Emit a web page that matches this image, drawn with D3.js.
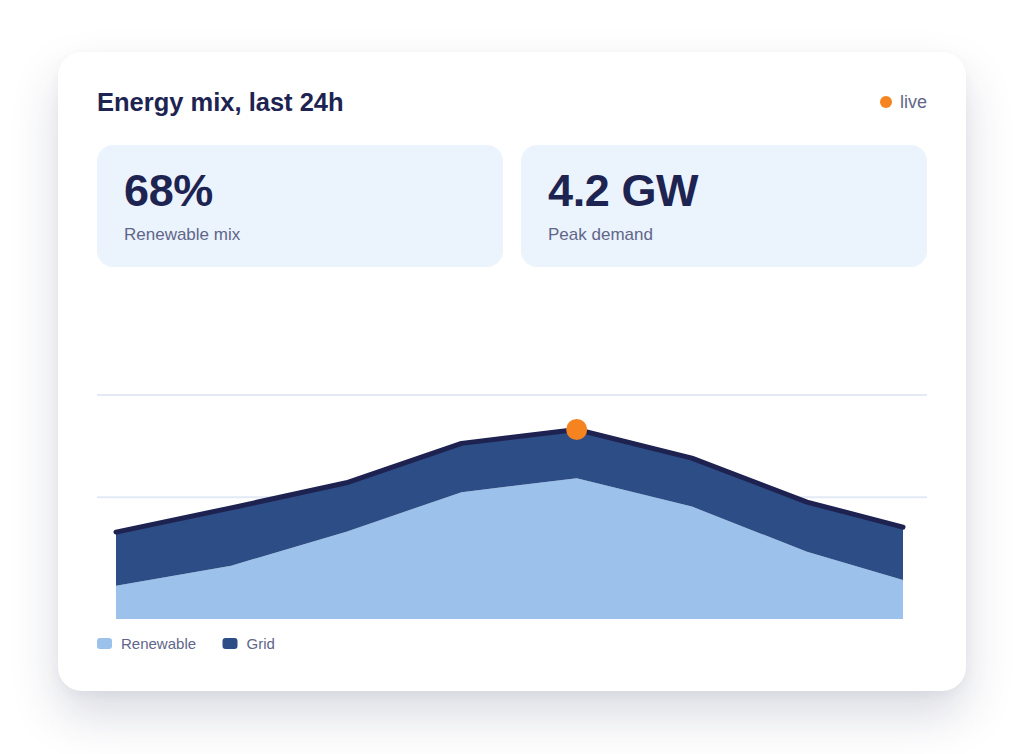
<!DOCTYPE html>
<html>
<head>
<meta charset="utf-8">
<script src="https://cdn.jsdelivr.net/npm/d3@7"></script>
<style>
  html, body { margin: 0; padding: 0; background: #ffffff; }
  #card {
    position: absolute; left: 58px; top: 52px;
    width: 908px; height: 639px;
    border-radius: 24px; background: #ffffff;
    box-shadow: 0 24px 48px rgba(38, 42, 85, 0.17), 0 4px 12px rgba(38, 42, 85, 0.04);
  }
  svg { position: absolute; left: 0; top: 0; display: block; font-family: "Liberation Sans", Arial, sans-serif; }
</style>
</head>
<body>
<div id="card"></div>
<svg id="chart" width="1024" height="754"></svg>
<script>
// hours of the day for each sample
const hours = [0, 3, 6, 9, 12, 15, 18, 20.5]
// GW from renewable sources and from the grid
const renewable = [0.74, 1.19, 1.95, 2.83, 3.14, 2.51, 1.50, 0.87]
const grid = [1.20, 1.29, 1.09, 1.09, 1.09, 1.08, 1.11, 1.18]
const gridLines = [2.72, 5]
const kpiValues = ['68%', '4.2 GW']
const kpiLabels = ['Renewable mix', 'Peak demand']
const seriesNames = ['Renewable', 'Grid']
const seriesColors = ['#9cc1eb', '#2d4d86']

const svg = d3.select('#chart')
const ink = '#1e2452'
const muted = '#5f6689'

// header
svg.append('text')
  .attr('x', 97).attr('y', 111)
  .attr('fill', ink)
  .style('font-size', '25.5px')
  .style('font-weight', 700)
  .text('Energy mix, last 24h')

svg.append('circle')
  .attr('cx', 886).attr('cy', 102)
  .attr('r', 6)
  .attr('fill', '#f5831f')

svg.append('text')
  .attr('x', 927).attr('y', 108)
  .attr('text-anchor', 'end')
  .attr('fill', muted)
  .style('font-size', '18px')
  .text('live')

// KPI tiles
const kpi = svg.selectAll('.kpi')
  .data(kpiValues)
  .enter()
  .append('g')
  .attr('class', 'kpi')
  .attr('transform', (d, i) => `translate(${97 + i * 424},145)`)

kpi.append('rect')
  .attr('width', 406).attr('height', 122)
  .attr('rx', 16)
  .attr('fill', '#ebf3fc')

kpi.append('text')
  .attr('x', 27).attr('y', 61)
  .attr('fill', ink)
  .style('font-size', '45px')
  .style('font-weight', 700)
  .style('letter-spacing', '-0.4px')
  .text(d => d)

kpi.append('text')
  .attr('x', 27).attr('y', 95)
  .attr('fill', muted)
  .style('font-size', '17px')
  .text((d, i) => kpiLabels[i])

// scales
const x = d3.scaleLinear().domain([0, 20.5]).range([116, 903])
const y = d3.scaleLinear().domain([0, 5]).range([619, 395])

// gridlines
svg.selectAll('.gridline')
  .data(gridLines)
  .enter()
  .append('line')
  .attr('class', 'gridline')
  .attr('x1', 97).attr('x2', 927)
  .attr('y1', d => y(d)).attr('y2', d => y(d))
  .attr('stroke', '#e3eaf5')
  .attr('stroke-width', 2)

// stacked areas
const rows = hours.map((h, i) => ({ hour: h, Renewable: renewable[i], Grid: grid[i] }))
const stacked = d3.stack().keys(seriesNames)(rows)

const area = d3.area()
  .x(d => x(d.data.hour))
  .y0(d => y(d[0]))
  .y1(d => y(d[1]))

svg.selectAll('.layer')
  .data(stacked)
  .enter()
  .append('path')
  .attr('class', 'layer')
  .attr('d', area)
  .attr('fill', (d, i) => seriesColors[i])

// total outline
const totals = rows.map(r => ({ hour: r.hour, total: r.Renewable + r.Grid }))
svg.append('path')
  .datum(totals)
  .attr('d', d3.line().x(d => x(d.hour)).y(d => y(d.total)))
  .attr('fill', 'none')
  .attr('stroke', '#1e2250')
  .attr('stroke-width', 5)
  .attr('stroke-linejoin', 'round')
  .attr('stroke-linecap', 'round')

// peak marker
const peak = totals.reduce((a, b) => (b.total > a.total ? b : a))
svg.append('circle')
  .attr('cx', x(peak.hour)).attr('cy', y(peak.total))
  .attr('r', 10.5)
  .attr('fill', '#f5831f')

// legend
const legend = svg.selectAll('.legend')
  .data(seriesNames)
  .enter()
  .append('g')
  .attr('class', 'legend')
  .attr('transform', (d, i) => `translate(${97 + i * 125.5},638)`)

legend.append('rect')
  .attr('width', 15).attr('height', 11)
  .attr('rx', 3)
  .attr('fill', (d, i) => seriesColors[i])

legend.append('text')
  .attr('x', 24).attr('y', 10.5)
  .attr('fill', muted)
  .style('font-size', '15px')
  .text(d => d)
</script>
</body>
</html>
